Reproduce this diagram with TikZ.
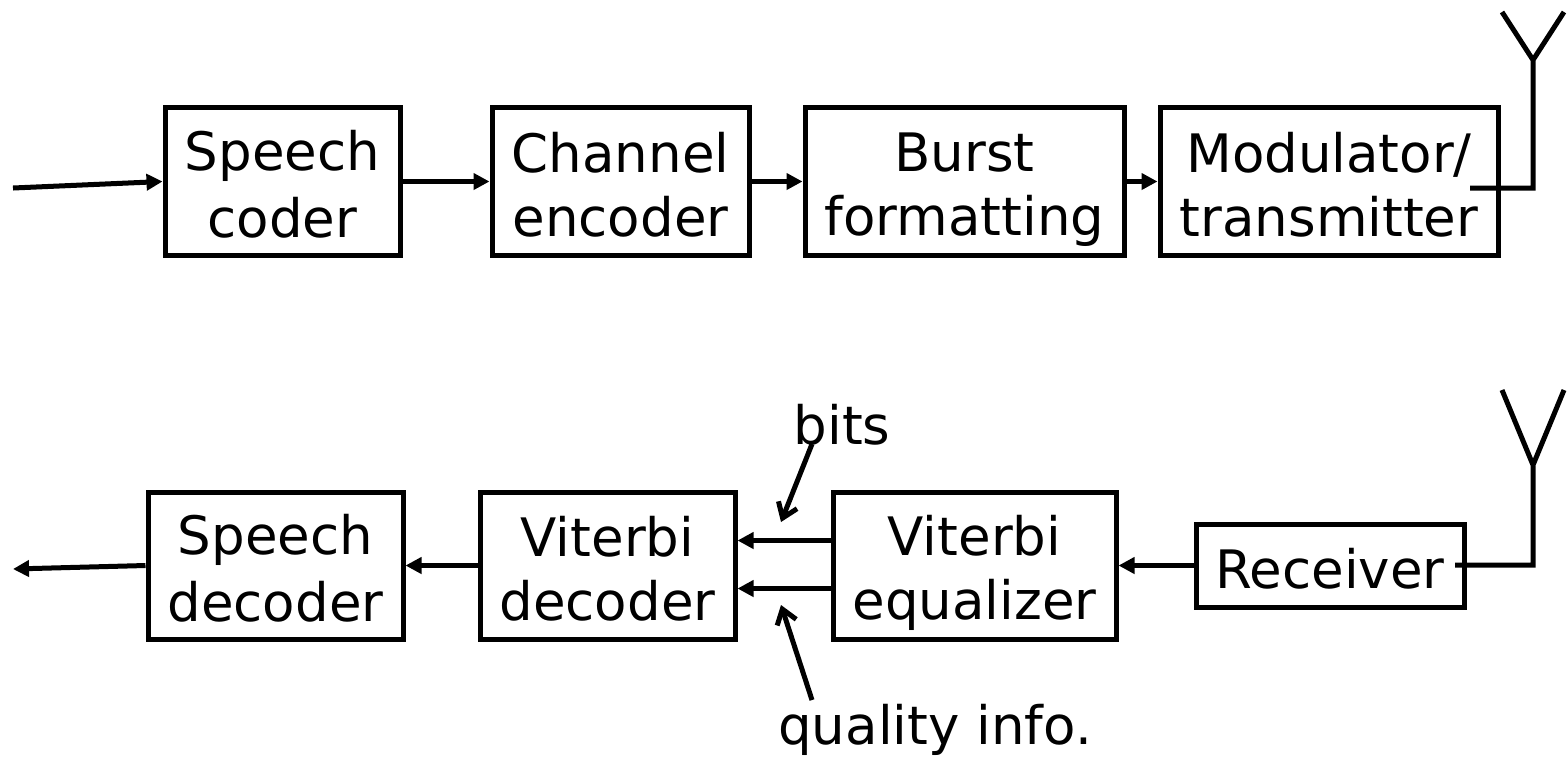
\documentclass[tikz,border=0pt]{standalone}
\usepackage{fontspec}
\setmainfont{DejaVu Sans}
\usetikzlibrary{arrows.meta}
\newcommand{\heightblock}{74pt}
\newcommand{\textstrut}{\rule[-4.75pt]{0pt}{32pt}}
\newcommand{\twolines}[2]{\textstrut#1\\#2\textstrut}
\tikzset{
    common/.style={draw, rectangle, line width=2.5pt, align=center, inner sep=0pt,
                   font=\fontsize{26.5}{32}\selectfont},
    block/.style={common, minimum height=\heightblock},
    label-text/.style={inner sep=0pt, font=\fontsize{26.5}{32}\selectfont},
    flow/.style={line width=2.5pt, -{Triangle[length=8pt,width=8pt]}},
    hint/.style={line width=2.5pt, -{Straight Barb[length=7pt,width=10pt]}},
    antenna/.style={line width=2.5pt}
}
\begin{document}
\begin{tikzpicture}[x=0.5pt, y=-0.5pt]
            \useasboundingbox (0,0) rectangle (1567,757);

            % transmitter chain
            \path
                (282.5,181.5) node[block, minimum width=117.5pt] (SC) {\twolines{Speech}{coder}}
                (620.5,181.5) node[block, minimum width=128.5pt] (CE) {\twolines{Channel}{encoder}}
                (964.5,181.5) node[block, minimum width=159.5pt] (BF) {\twolines{Burst}{formatting}}
                (1329,181.5) node[block, minimum width=169pt] (MT) {\twolines{Modulator/}{transmitter}};

            % receiver chain
            \path
                (275.5,565.5) node[block, minimum width=127.5pt, minimum height=73.5pt] (SD) {\twolines{Speech}{decoder}}
                (607.5,565.5) node[block, minimum width=127.5pt, minimum height=73.5pt] (VD) {\twolines{Viterbi}{decoder}}
                (974.5,565.5) node[block, minimum width=141.5pt, minimum height=73.5pt] (VE) {\twolines{Viterbi}{equalizer}}
                (1330,565.5) node[common, minimum width=134pt, minimum height=41.5pt] (RX) {\textstrut Receiver};

            \node[label-text] (bits) at (842,425) {bits};
            \node[label-text] (quality) at (935,730) {quality info.};

            \coordinate (in) at (13,188);
            \coordinate (out) at (13,569);
            \coordinate (bits-from) at (812,444);
            \coordinate (bits-to) at (781,522);
            \coordinate (quality-from) at (812,700);
            \coordinate (quality-to) at (781,605);

            \draw[flow] (in) -- (SC.west);
            \draw[flow] (SC) -- (CE);
            \draw[flow] (CE) -- (BF);
            \draw[flow] (BF) -- (MT);

            \draw[flow] (RX) -- (VE);
            \draw[flow] ([yshift=12.5pt]VE.west) -- ([yshift=12.5pt]VD.east);
            \draw[flow] ([yshift=-11.5pt]VE.west) -- ([yshift=-11.5pt]VD.east);
            \draw[flow] (VD) -- (SD);
            \draw[flow] (SD.west) -- (out);

            \draw[hint] (bits-from) -- (bits-to);
            \draw[hint] (quality-from) -- (quality-to);

            % antennas
            \draw[antenna] (1470,188) -- (1533,188) -- (1533,60) (1502,12) -- (1533,60) -- (1564,12);
            \draw[antenna] (1455,565) -- (1533,565) -- (1533,465) (1502,390) -- (1533,465) -- (1564,390);
        \end{tikzpicture}
\end{document}
